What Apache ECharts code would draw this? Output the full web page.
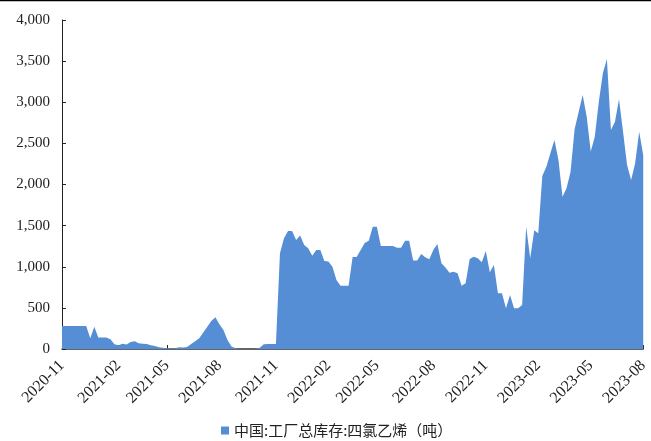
<!DOCTYPE html>
<html>
<head>
<meta charset="utf-8">
<script src="https://cdn.jsdelivr.net/npm/echarts@6/dist/echarts.min.js"></script>
<style>
  html, body { margin: 0; padding: 0; background: #fff; }
  #chart { width: 651px; height: 441px; }
</style>
</head>
<body>
<div id="chart"></div>
<script>
// weekly factory stock, tonnes
const stockValues = [
  280, 280, 280, 280, 280, 280, 280, 130, 270, 140,
  140, 140, 120, 57, 45, 65, 55, 85, 95, 70,
  65, 60, 45, 35, 20, 15, 10, 5, 8, 20,
  18, 25, 60, 95, 130, 200, 270, 340, 385, 300,
  230, 110, 30, 10, 0, 0, 0, 0, 3, 15,
  57, 60, 60, 60, 1165, 1345, 1435, 1435, 1325, 1380,
  1265, 1225, 1135, 1205, 1205, 1070, 1065, 1000, 840, 770,
  770, 770, 1120, 1120, 1205, 1290, 1317, 1487, 1487, 1252,
  1252, 1252, 1252, 1232, 1232, 1317, 1317, 1075, 1075, 1155,
  1115, 1090, 1205, 1277, 1042, 990, 928, 940, 922, 770,
  798, 1094, 1122, 1102, 1054, 1191, 932, 1021, 677, 677,
  495, 657, 495, 495, 535, 1485, 1103, 1445, 1407, 2104,
  2217, 2380, 2541, 2298, 1852, 1954, 2156, 2671, 2880, 3089,
  2825, 2400, 2582, 3007, 3352, 3526, 2663, 2764, 3036, 2642,
  2237, 2055, 2258, 2642, 2359
];
const startDate = "2020-11-01";
const labelMonths = [2, 5, 8, 11];
const yTicks = [0, 500, 1000, 1500, 2000, 2500, 3000, 3500, 4000];
const seriesName = "中国:工厂总库存:四氯乙烯（吨）";

// one category per week
const weeks = [];
const d0 = new Date(startDate + "T00:00:00Z");
for (let i = 0; i < stockValues.length; i++) {
  const d = new Date(d0.getTime() + i * 7 * 86400000);
  weeks.push(d.toISOString().slice(0, 10));
}
// label at first week of each quarter month
const showAt = {};
let prevMonth = "";
weeks.forEach((w, i) => {
  const ym = w.slice(0, 7);
  if (ym !== prevMonth && labelMonths.indexOf(+w.slice(5, 7)) >= 0) showAt[i] = true;
  prevMonth = ym;
});

const chart = echarts.init(document.getElementById("chart"));
const serif = "'Liberation Serif', 'Times New Roman', serif";
chart.setOption({
  animation: false,
  graphic: [
    { type: "line", shape: { x1: 0, y1: 0.5, x2: 651, y2: 0.5 }, style: { stroke: "#000", lineWidth: 1.5 } },
  ],
  grid: { left: 62, right: 7, top: 20, bottom: 92 },
  legend: {
    top: 418,
    left: 216,
    icon: "rect",
    itemWidth: 8,
    itemHeight: 8,
    itemGap: 6,
    textStyle: { fontFamily: "'Noto Sans CJK SC', serif", fontSize: 15, color: "#222" },
    data: [seriesName],
  },
  xAxis: {
    type: "category",
    data: weeks,
    boundaryGap: false,
    axisLine: { lineStyle: { color: "#333", width: 1.5 } },
    axisTick: {
      inside: true,
      length: 4,
      interval: (i) => !!showAt[i],
      lineStyle: { color: "#222" },
    },
    axisLabel: {
      interval: (i) => !!showAt[i],
      formatter: (v) => v.slice(0, 7),
      rotate: 45,
      margin: 14,
      fontFamily: serif,
      fontSize: 16,
      color: "#222",
    },
  },
  yAxis: {
    type: "value",
    min: yTicks[0],
    max: yTicks[yTicks.length - 1],
    interval: 500,
    axisLine: { show: true, lineStyle: { color: "#222", width: 1 } },
    axisTick: { show: true, inside: true, length: 4, lineStyle: { color: "#222" } },
    splitLine: { show: false },
    axisLabel: {
      formatter: (v) => v.toLocaleString("en-US"),
      margin: 12,
      fontFamily: serif,
      fontSize: 15,
      color: "#222",
    },
  },
  series: [
    {
      name: seriesName,
      type: "line",
      data: stockValues,
      showSymbol: false,
      lineStyle: { width: 0 },
      itemStyle: { color: "#558ED5" },
      areaStyle: { color: "#558ED5", opacity: 1 },
    },
  ],
});
</script>
</body>
</html>
